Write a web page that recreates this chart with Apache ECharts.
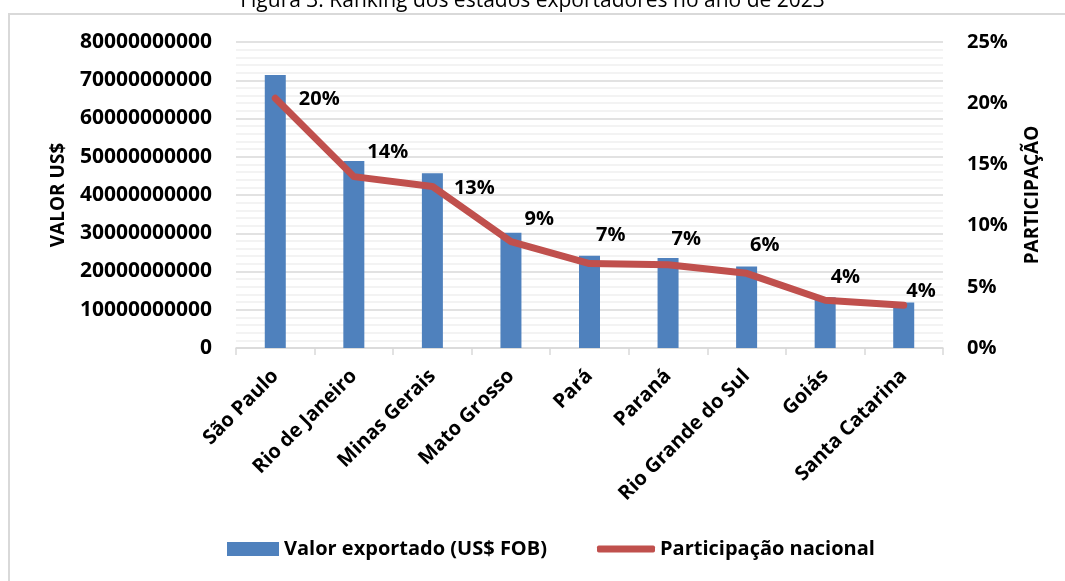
<!DOCTYPE html>
<html>
<head>
<meta charset="utf-8">
<script src="https://cdn.jsdelivr.net/npm/echarts@6/dist/echarts.min.js"></script>
<style>
  html, body { margin: 0; padding: 0; background: #fff; overflow: hidden; }
  .frame {
    position: absolute; left: 8px; top: 13px; width: 1070px; height: 600px;
    border-left: 2px solid #D9D9D9; border-top: 2px solid #D9D9D9;
  }
  #chart { position: absolute; left: 0; top: 0; width: 1065px; height: 581px; }
</style>
</head>
<body>
<div class="frame"></div>
<div id="chart"></div>
<script>
// dados
var estados = ["São Paulo", "Rio de Janeiro", "Minas Gerais", "Mato Grosso", "Pará",
  "Paraná", "Rio Grande do Sul", "Goiás", "Santa Catarina"];
var valorExportado = [71400000000, 48900000000, 45700000000, 30100000000, 24100000000,
  23500000000, 21300000000, 13300000000, 11900000000];
var participacao = [20.4, 14.0, 13.2, 8.7, 6.9, 6.8, 6.1, 3.9, 3.5];

// deslocamento dos rótulos da linha
var labelOffsets = [[23, 1], [13, -24], [21, 2], [13, -22], [6, -28], [3, -25], [3, -28], [5, -23], [2, -14]];

var FONT = "Open Sans";
var chart = echarts.init(document.getElementById("chart"));

chart.setOption({
  animation: false,
  textStyle: { fontFamily: FONT },
  title: {
    text: "Figura 3: Ranking dos estados exportadores no ano de 2023",
    left: "center",
    top: -14,
    textStyle: { fontFamily: FONT, fontWeight: "normal", fontSize: 21, color: "#000" }
  },
  grid: { left: 236, right: 122, top: 42, bottom: 233 },
  legend: [
    {
      data: ["Valor exportado (US$ FOB)"],
      left: 227, top: 539, padding: 0,
      icon: "rect", itemWidth: 52, itemHeight: 14, itemGap: 6,
      textStyle: { fontFamily: FONT, fontWeight: "bold", fontSize: 20, color: "#000" }
    },
    {
      data: ["Participação nacional"],
      left: 597, top: 539, padding: 0,
      icon: "roundRect", itemWidth: 58, itemHeight: 7,
      textStyle: { fontFamily: FONT, fontWeight: "bold", fontSize: 20, color: "#000" }
    }
  ],
  xAxis: {
    type: "category",
    data: estados,
    axisLine: { lineStyle: { color: "#D9D9D9", width: 1.5 } },
    axisTick: { show: true, length: 7, lineStyle: { color: "#D9D9D9", width: 1.5 } },
    axisLabel: {
      rotate: 45, margin: 25, interval: 0,
      fontFamily: FONT, fontWeight: "bold", fontSize: 20, color: "#000"
    }
  },
  yAxis: [
    {
      type: "value",
      min: 0, max: 80000000000, interval: 10000000000,
      name: "VALOR US$",
      nameLocation: "middle", nameRotate: 90, nameGap: 168,
      nameTextStyle: { fontFamily: FONT, fontWeight: "bold", fontSize: 19, color: "#000" },
      axisLine: { show: false },
      axisTick: { show: false },
      axisLabel: {
        margin: 24,
        fontFamily: FONT, fontWeight: "bold", fontSize: 21, color: "#000",
        formatter: function (v) { return String(v); }
      },
      splitLine: { lineStyle: { color: "#D9D9D9", width: 1.5 } },
      minorTick: { show: false, splitNumber: 5 },
      minorSplitLine: { show: true, lineStyle: { color: "#EFEFEF", width: 1.5 } }
    },
    {
      type: "value",
      min: 0, max: 25, interval: 5,
      name: "PARTICIPAÇÃO",
      nameLocation: "middle", nameRotate: 90, nameGap: 80,
      nameTextStyle: { fontFamily: FONT, fontWeight: "bold", fontSize: 19, color: "#000" },
      axisLine: { show: false },
      axisTick: { show: false },
      splitLine: { show: false },
      axisLabel: {
        margin: 24,
        fontFamily: FONT, fontWeight: "bold", fontSize: 20, color: "#000",
        formatter: function (v) { return v + "%"; }
      }
    }
  ],
  series: [
    {
      name: "Valor exportado (US$ FOB)",
      type: "bar",
      data: valorExportado,
      barWidth: 21,
      itemStyle: { color: "#4F81BD" }
    },
    {
      name: "Participação nacional",
      type: "line",
      yAxisIndex: 1,
      data: participacao.map(function (v, i) {
        return { value: v, label: { offset: labelOffsets[i] } };
      }),
      symbol: "circle",
      symbolSize: 1,
      itemStyle: { color: "#C0504D" },
      lineStyle: { color: "#C0504D", width: 7, cap: "round", join: "round" },
      label: {
        show: true,
        position: "right",
        distance: 0,
        fontFamily: FONT, fontWeight: "bold", fontSize: 20, color: "#000",
        formatter: function (p) { return Math.round(p.value) + "%"; }
      }
    }
  ]
});
</script>
</body>
</html>
